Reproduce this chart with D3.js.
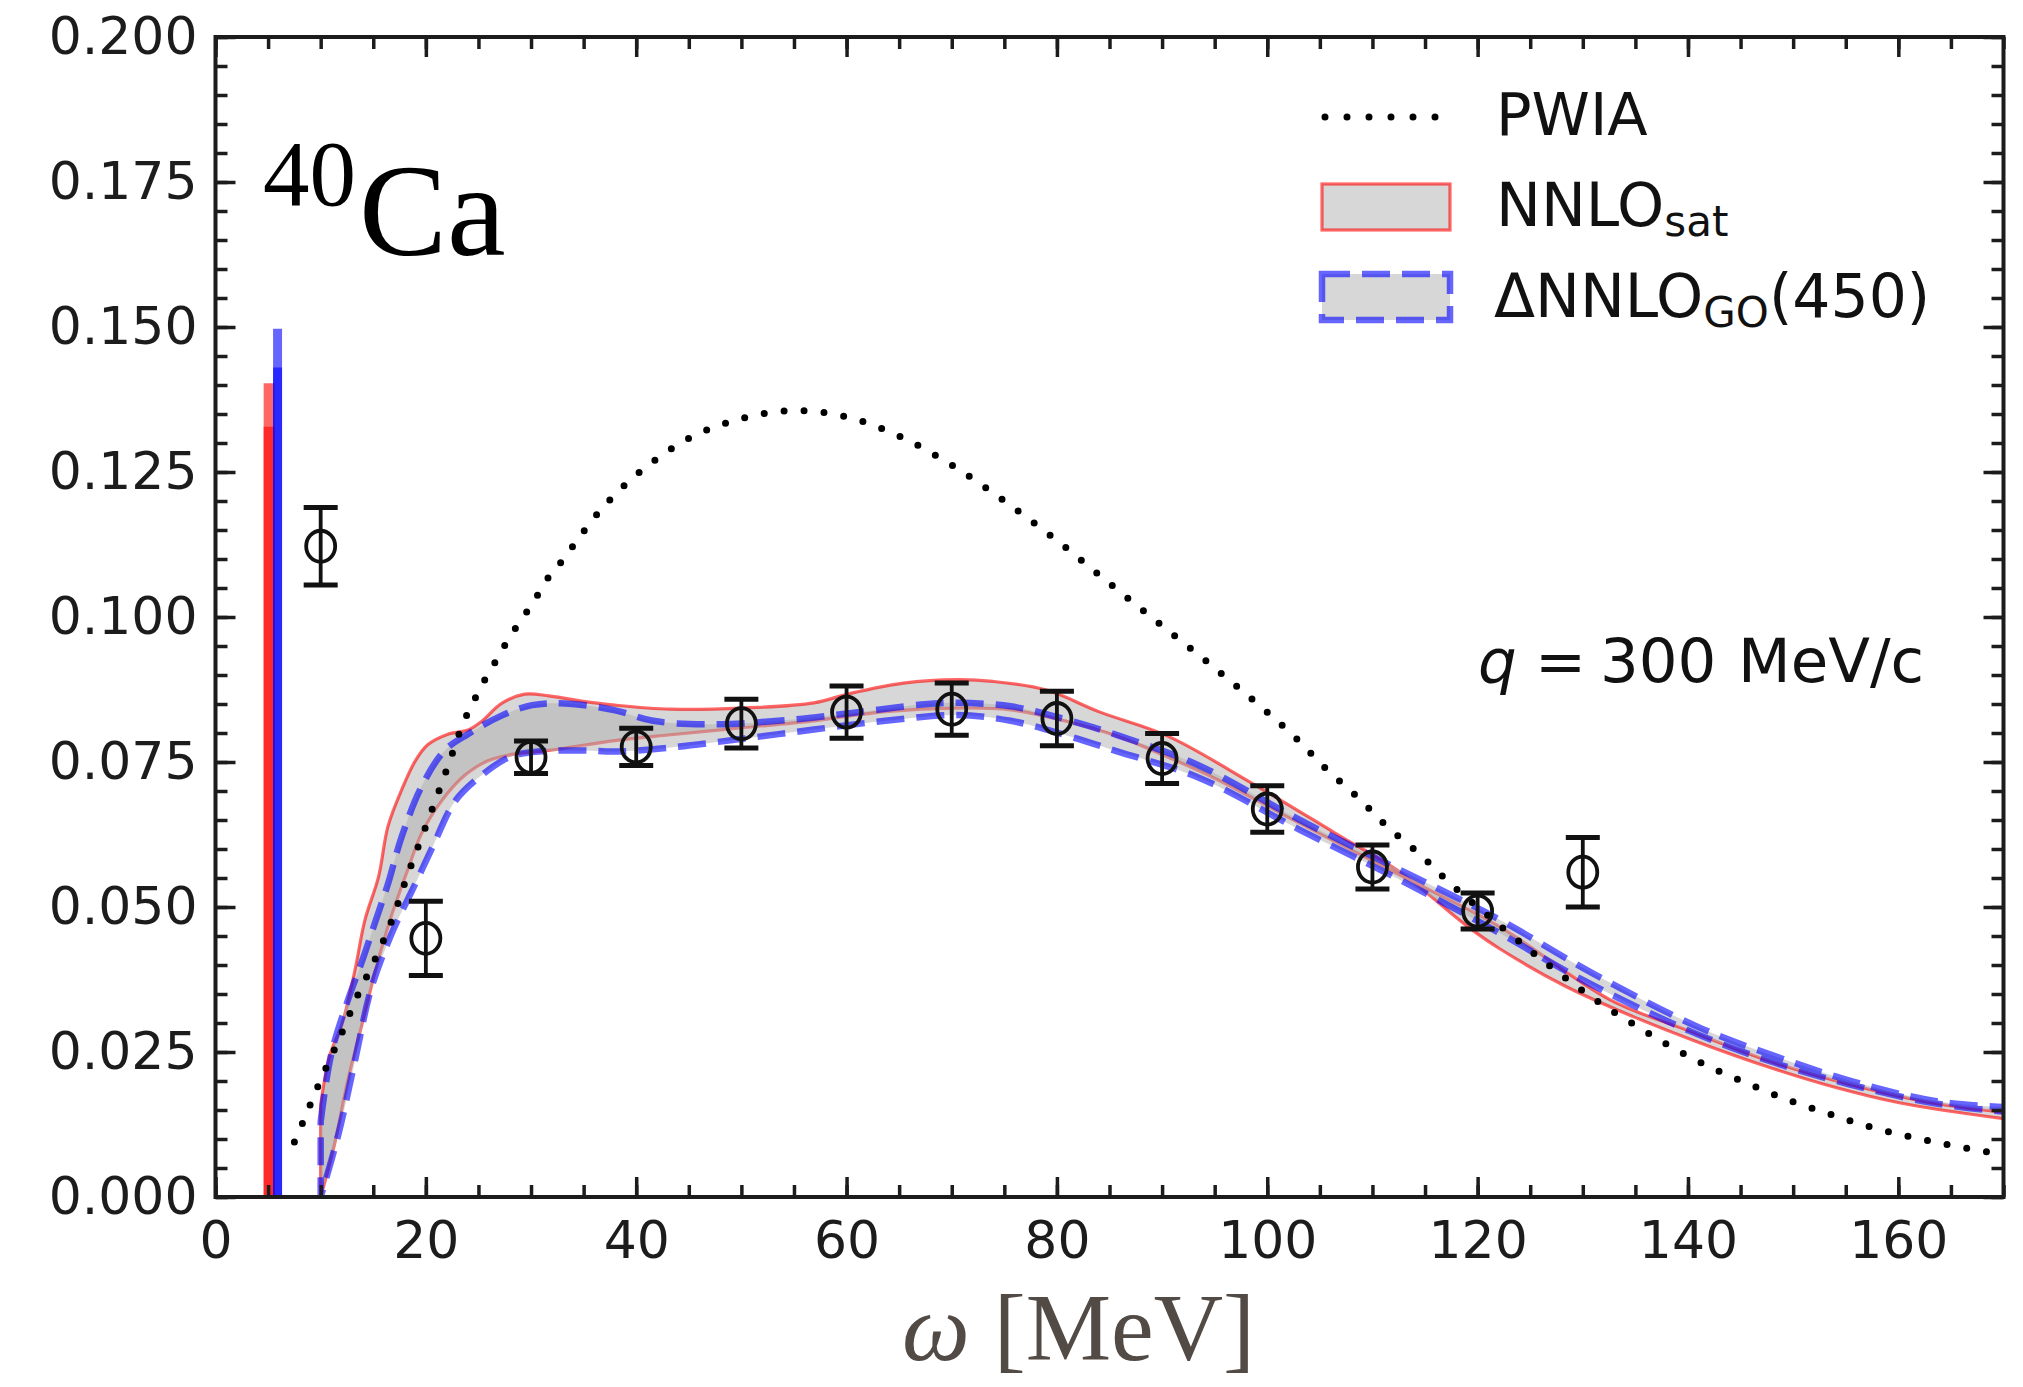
<!DOCTYPE html>
<meta charset="utf-8">
<style>
body { margin: 0; background: #fff; }
.tick text { font-family: "DejaVu Sans"; font-size: 52px; fill: #1c1c1c; }
.tick line { stroke: #1c1c1c; stroke-width: 3.5px; }
.lbl { font-family: "DejaVu Sans"; fill: #111; }
.serif { font-family: "Liberation Serif"; }
</style>
<body>
<script src="https://d3js.org/d3.v7.min.js"></script>
<script>

// ticks
var xTicks = [0, 20, 40, 60, 80, 100, 120, 140, 160];
var yTicks = [0, 0.025, 0.05, 0.075, 0.1, 0.125, 0.15, 0.175, 0.2];

// PWIA (dotted)
var pwiaW = [7.5, 8.5, 9.3, 10.1, 11.8, 13.4, 15.3, 16.9, 18.2, 19.6, 21.0, 22.2, 23.5, 24.5, 25.4,
  26.4, 27.4, 28.5, 29.6, 30.7, 31.8, 33.1, 34.3, 36.5, 40, 45, 50, 55, 60, 65, 70, 75, 80, 85, 90,
  95, 99.6, 102.8, 105.6, 108.6, 111.5, 114.5, 117.5, 121, 125.2, 128.4, 131.6, 135.1, 138.6,
  142.1, 145.9, 149.7, 153.5, 157.3, 161.3, 165.1, 169.1, 170];
var pwiaS = [0.0095, 0.0137, 0.0172, 0.0206, 0.0274, 0.0343, 0.0415, 0.0483, 0.0552, 0.062, 0.0688,
  0.0748, 0.0815, 0.0853, 0.0885, 0.0916, 0.0948, 0.098, 0.1009, 0.104, 0.1072, 0.110, 0.113,
  0.1182, 0.1245, 0.1308, 0.1342, 0.1356, 0.1345, 0.1312, 0.1262, 0.1200, 0.1132, 0.1058, 0.0985,
  0.0912, 0.0842, 0.079, 0.0738, 0.0689, 0.0637, 0.0591, 0.0539, 0.0485, 0.0422, 0.0377, 0.0335,
  0.0295, 0.0257, 0.0224, 0.0194, 0.0166, 0.0143, 0.0121, 0.0103, 0.0089, 0.0076, 0.0074];

// NNLOsat band edges
var satAW = [10, 10.9, 12.0, 13.25, 14.2, 15.5, 16.4, 17.7, 19, 20.2, 22.1, 24, 25.3, 27.2, 29.4,
  31.7, 34.8, 38, 43.3, 50.1, 56.9, 60.3, 65.4, 70.5, 73.9, 79, 84.1, 90.5, 98.4, 106.4, 112.7,
  119, 122.1, 128.4, 134.8, 141.1, 147.5, 153.8, 160.2, 170];
var satA = [0.0159, 0.0246, 0.0296, 0.039, 0.0477, 0.0552, 0.0639, 0.0702, 0.0752, 0.078, 0.0798,
  0.0805, 0.082, 0.0851, 0.0867, 0.0864, 0.0855, 0.0848, 0.0841, 0.0843, 0.0852, 0.0868, 0.0886,
  0.0892, 0.0889, 0.0874, 0.0836, 0.0795, 0.0715, 0.0628, 0.0559, 0.0467, 0.0428, 0.0363, 0.0311,
  0.0266, 0.0225, 0.019, 0.0162, 0.0135];
var satBW = [10, 11.3, 12.6, 13.9, 15.2, 16.7, 18.3, 19.6, 21.5, 23.7, 25.9, 28.5, 31.7, 38, 43.3,
  50.1, 56.9, 63.7, 70.5, 75.6, 80.7, 85.8, 89.2, 95, 103, 112.5, 122, 132.6, 140.2, 147.8, 155.4,
  163.3, 170];
var satB = [0, 0.009, 0.0203, 0.0296, 0.039, 0.0483, 0.0565, 0.0627, 0.0683, 0.0727, 0.0752, 0.0764,
  0.077, 0.0787, 0.0797, 0.0809, 0.0821, 0.0837, 0.0843, 0.084, 0.0821, 0.0794, 0.0769, 0.0722,
  0.0645, 0.0556, 0.0467, 0.034, 0.0286, 0.0234, 0.0194, 0.0162, 0.0146];

// DeltaNNLO_GO(450) band edges
var goCW = [10, 11.0, 12.6, 14, 15.2, 16.4, 17.7, 19.6, 21.8, 24, 27.2, 30.1, 33.25, 38, 41.6, 46.7,
  53.5, 60.3, 67.1, 70.5, 75.6, 80.7, 85.8, 93.5, 103, 112.5, 122, 130.9, 141.1, 148.4, 155.7,
  163.6, 170];
var goC = [0.013, 0.0246, 0.034, 0.041, 0.0475, 0.054, 0.0621, 0.0708, 0.077, 0.0798, 0.083, 0.0848,
  0.0851, 0.0839, 0.0821, 0.0815, 0.0821, 0.0834, 0.0849, 0.0852, 0.0846, 0.0824, 0.0796, 0.0744,
  0.0651, 0.0565, 0.0479, 0.0386, 0.0292, 0.0242, 0.0199, 0.0165, 0.0155];
var goDW = [10, 11.7, 13.25, 14.8, 16.7, 19, 20.6, 22.8, 25.3, 27.9, 30.1, 34.8, 38, 43.3, 50.1,
  56.9, 63.7, 70.5, 75.6, 80.7, 85.8, 93.5, 103, 112.5, 122, 129.9, 140.2, 147.8, 155.4, 163.3, 170];
var goD = [0, 0.0109, 0.0234, 0.0359, 0.0452, 0.054, 0.0602, 0.0683, 0.0727, 0.0758, 0.0767, 0.077,
  0.0768, 0.0775, 0.079, 0.0806, 0.0821, 0.0831, 0.0821, 0.0797, 0.0768, 0.0723, 0.0634, 0.0548,
  0.0456, 0.0375, 0.0286, 0.0234, 0.0194, 0.0162, 0.0147];

// elastic spikes
var spikeW = [5.1, 5.1, 5.9, 5.9];
var spikeH = [0.1403, 0.1328, 0.1497, 0.1430];
var spikeCol = ["red", "red", "blue", "blue"];

// experimental points
var expW = [10, 20, 30, 40, 50, 60, 70, 80, 90, 100, 110, 120, 130];
var expS = [0.1122, 0.0446, 0.0758, 0.0776, 0.0816, 0.0836, 0.0841, 0.0825, 0.0756, 0.0669, 0.0569, 0.0493, 0.056];
var expErr = [0.0067, 0.0064, 0.0028, 0.0032, 0.0042, 0.0045, 0.0045, 0.0047, 0.0043, 0.004, 0.0038, 0.0031, 0.006];

var margin = {top: 37, right: 19.5, bottom: 190, left: 215.5},
    width = 2023 - margin.left - margin.right,
    height = 1387 - margin.top - margin.bottom;

var x = d3.scaleLinear().domain([0, 170]).range([0, width]);
var y = d3.scaleLinear().domain([0, 0.2]).range([height, 0]);

var root = d3.select("body").append("svg")
    .attr("width", 2023)
    .attr("height", 1387);

var svg = root.append("g")
    .attr("transform", "translate(" + margin.left + "," + margin.top + ")");

svg.append("clipPath").attr("id", "clip")
  .append("rect").attr("width", width).attr("height", height);

var plot = svg.append("g").attr("clip-path", "url(#clip)");

var line = d3.line()
    .x(function(d) { return x(d[0]); })
    .y(function(d) { return y(d[1]); })
    .curve(d3.curveCatmullRom.alpha(0.5));

// closed outline: edge a forward, edge b backward
function bandPath(xa, ya, xb, yb) {
  var a = d3.zip(xa, ya);
  var b = d3.zip(xb, yb).reverse();
  return line(a) + line(b).replace(/^M/, "L") + "Z";
}

var grayFill = "#b0b0b0";

// bands
plot.append("path")
    .attr("d", bandPath(satAW, satA, satBW, satB))
    .attr("fill", grayFill).attr("fill-opacity", 0.5)
    .attr("stroke", "red").attr("stroke-opacity", 0.6)
    .attr("stroke-width", 3.2);

plot.append("path")
    .attr("d", bandPath(goCW, goC, goDW, goD))
    .attr("fill", grayFill).attr("fill-opacity", 0.5)
    .attr("stroke", "blue").attr("stroke-opacity", 0.6)
    .attr("stroke-width", 6.5)
    .attr("stroke-dasharray", "28 12");

// spikes
plot.selectAll(".spike")
    .data(d3.range(spikeW.length))
  .enter().append("line")
    .attr("class", "spike")
    .attr("x1", function(i) { return x(spikeW[i]); })
    .attr("x2", function(i) { return x(spikeW[i]); })
    .attr("y1", y(0))
    .attr("y2", function(i) { return y(spikeH[i]); })
    .attr("stroke", function(i) { return spikeCol[i]; })
    .attr("stroke-opacity", 0.6)
    .attr("stroke-width", function(i) { return spikeCol[i] == "red" ? 11 : 9; });

// PWIA
plot.append("path")
    .attr("d", line(d3.zip(pwiaW, pwiaS)))
    .attr("fill", "none")
    .attr("stroke", "#000")
    .attr("stroke-width", 7)
    .attr("stroke-linecap", "round")
    .attr("stroke-dasharray", "0 20");

// data with error bars
var pts = plot.selectAll(".pt")
    .data(d3.range(expW.length))
  .enter().append("g").attr("class", "pt")
    .attr("stroke", "#111").attr("stroke-width", 3.8).attr("fill", "none");

pts.append("line")
    .attr("x1", function(i) { return x(expW[i]); })
    .attr("x2", function(i) { return x(expW[i]); })
    .attr("y1", function(i) { return y(expS[i] - expErr[i]); })
    .attr("y2", function(i) { return y(expS[i] + expErr[i]); });
[-1, 1].forEach(function(s) {
  pts.append("line")
      .attr("stroke-width", 5)
      .attr("x1", function(i) { return x(expW[i]) - 17; })
      .attr("x2", function(i) { return x(expW[i]) + 17; })
      .attr("y1", function(i) { return y(expS[i] + s * expErr[i]); })
      .attr("y2", function(i) { return y(expS[i] + s * expErr[i]); });
});
pts.append("ellipse")
    .attr("cx", function(i) { return x(expW[i]); })
    .attr("cy", function(i) { return y(expS[i]); })
    .attr("rx", 14.5).attr("ry", 15.5);

// axes (ticks inside, all four sides)
var xMinor = d3.range(0, 171, 5), yMinor = d3.range(0, 0.2001, 0.005);

function clean(g) { g.select(".domain").remove(); }

svg.append("g").attr("transform", "translate(0," + height + ")")
    .call(d3.axisBottom(x).tickValues(xMinor).tickSize(-12).tickFormat("")).call(clean);
svg.append("g").attr("transform", "translate(0," + height + ")")
    .call(d3.axisBottom(x).tickValues(xTicks).tickSize(-20).tickPadding(24)).call(clean);
svg.append("g")
    .call(d3.axisTop(x).tickValues(xMinor).tickSize(-12).tickFormat("")).call(clean);
svg.append("g")
    .call(d3.axisTop(x).tickValues(xTicks).tickSize(-20).tickFormat("")).call(clean);

svg.append("g")
    .call(d3.axisLeft(y).tickValues(yMinor).tickSize(-12).tickFormat("")).call(clean);
svg.append("g")
    .call(d3.axisLeft(y).tickValues(yTicks).tickSize(-20).tickPadding(18).tickFormat(d3.format(".3f"))).call(clean);
svg.append("g").attr("transform", "translate(" + width + ",0)")
    .call(d3.axisRight(y).tickValues(yMinor).tickSize(-12).tickFormat("")).call(clean);
svg.append("g").attr("transform", "translate(" + width + ",0)")
    .call(d3.axisRight(y).tickValues(yTicks).tickSize(-20).tickFormat("")).call(clean);

svg.append("rect")
    .attr("width", width).attr("height", height)
    .attr("fill", "none").attr("stroke", "#1c1c1c").attr("stroke-width", 4);

// legend
root.append("line")
    .attr("x1", 1325).attr("x2", 1437).attr("y1", 117).attr("y2", 117)
    .attr("stroke", "#000").attr("stroke-width", 7)
    .attr("stroke-linecap", "round").attr("stroke-dasharray", "0 22");
root.append("text").attr("class", "lbl")
    .attr("x", 1496).attr("y", 135).style("font-size", "59px").text("PWIA");

root.append("rect")
    .attr("x", 1322).attr("y", 184).attr("width", 128).attr("height", 46)
    .attr("fill", grayFill).attr("fill-opacity", 0.5)
    .attr("stroke", "red").attr("stroke-opacity", 0.6).attr("stroke-width", 3.2);
var t1 = root.append("text").attr("class", "lbl")
    .attr("x", 1496).attr("y", 226).style("font-size", "60px");
t1.append("tspan").text("NNLO");
t1.append("tspan").attr("dy", 10).style("font-size", "42px").text("sat");

root.append("rect")
    .attr("x", 1322).attr("y", 274).attr("width", 128).attr("height", 46)
    .attr("fill", grayFill).attr("fill-opacity", 0.5)
    .attr("stroke", "blue").attr("stroke-opacity", 0.6).attr("stroke-width", 6.5)
    .attr("stroke-dasharray", "28 12");
var t2 = root.append("text").attr("class", "lbl")
    .attr("x", 1494).attr("y", 317).style("font-size", "60px");
t2.append("tspan").text("\u0394NNLO");
t2.append("tspan").attr("dy", 10).style("font-size", "42px").text("GO");
t2.append("tspan").attr("dy", -10).text("(450)");

// q label
var tq = root.append("text").attr("class", "lbl")
    .attr("y", 682).style("font-size", "61px");
tq.append("tspan").attr("x", 1478).style("font-style", "italic").text("q");
tq.append("tspan").attr("x", 1535).text("=");
tq.append("tspan").attr("x", 1600).text("300");
tq.append("tspan").attr("x", 1738).text("MeV/c");

// nucleus label
root.append("text").attr("class", "serif")
    .attr("x", 263).attr("y", 205).style("font-size", "93px").attr("fill", "#000").text("40");
root.append("text").attr("class", "serif")
    .attr("x", 359).attr("y", 255).style("font-size", "132px").attr("fill", "#000").text("Ca");

// x axis title
var tx = root.append("text").attr("class", "serif")
    .attr("x", 902).attr("y", 1360).style("font-size", "96px").attr("fill", "#524a45");
tx.append("tspan").style("font-style", "italic").text("\u03c9");
tx.append("tspan").text(" [MeV]");

</script>
</body>
